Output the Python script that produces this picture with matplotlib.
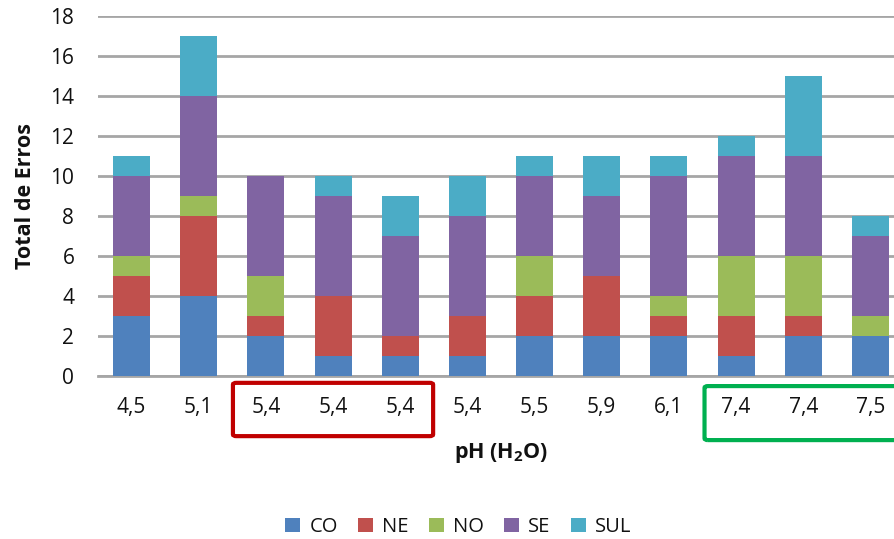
import matplotlib
matplotlib.use("Agg")
import matplotlib.pyplot as plt
from matplotlib.patches import FancyBboxPatch
from matplotlib.transforms import blended_transform_factory
import numpy as np

plt.rcParams['font.family'] = ['Open Sans', 'DejaVu Sans']
plt.rcParams['mathtext.fontset'] = 'custom'
plt.rcParams['mathtext.rm'] = 'Open Sans'
plt.rcParams['mathtext.bf'] = 'Open Sans:bold'

ph_labels = ['4,5', '5,1', '5,4', '5,4', '5,4', '5,4', '5,5', '5,9', '6,1', '7,4', '7,4', '7,5']
regions = ['CO', 'NE', 'NO', 'SE', 'SUL']
co = [3, 4, 2, 1, 1, 1, 2, 2, 2, 1, 2, 2]
ne = [2, 4, 1, 3, 1, 2, 2, 3, 1, 2, 1, 0]
no = [1, 1, 2, 0, 0, 0, 2, 0, 1, 3, 3, 1]
se = [4, 5, 5, 5, 5, 5, 4, 4, 6, 5, 5, 4]
sul = [1, 3, 0, 1, 2, 2, 1, 2, 1, 1, 4, 1]
colors = ['#4F81BD', '#C0504D', '#9BBB59', '#8064A2', '#4BACC6']

fig = plt.figure(figsize=(8.95, 5.39), dpi=100)
ax = fig.add_axes([0.1094, 0.3024, 0.9007, 0.668])

x = np.arange(len(ph_labels))
bottom = np.zeros(len(ph_labels))
for name, vals, c in zip(regions, [co, ne, no, se, sul], colors):
    ax.bar(x, vals, width=0.55, bottom=bottom, color=c, label=name, zorder=3,
           edgecolor='none')
    bottom += np.array(vals)

ax.set_ylim(0, 18)
ax.set_xlim(-0.5, len(ph_labels) - 0.5)
ax.set_yticks(range(0, 19, 2))
ax.set_xticks(x)
ax.set_xticklabels(ph_labels)
ax.yaxis.grid(True, color='#A6A6A6', linewidth=2, zorder=0)
for s in ['top', 'right', 'left']:
    ax.spines[s].set_visible(False)
ax.spines['bottom'].set_color('#A6A6A6')
ax.spines['bottom'].set_linewidth(2)
ax.tick_params(axis='both', length=0, labelsize=15, colors='#111111')
ax.tick_params(axis='y', pad=17)
ax.tick_params(axis='x', pad=15)

ax.set_ylabel('Total de Erros', fontsize=15.5, fontweight='bold', labelpad=10,
              color='#111111')
ax.set_xlabel(r'pH (H$_{\mathbf{2}}$O)', fontsize=15.5, fontweight='bold', labelpad=17,
              color='#111111')

# highlight boxes around the pH groups
trans = blended_transform_factory(ax.transData, ax.transAxes)
for x0, x1, y0, y1, ec in [(1.51, 4.49, -0.167, -0.019, '#C00000'),
                           (8.53, 11.45, -0.178, -0.028, '#00B050')]:
    box = FancyBboxPatch((x0, y0), x1 - x0, y1 - y0,
                         boxstyle='round,pad=0,rounding_size=0.05',
                         transform=trans, fill=False, edgecolor=ec,
                         linewidth=3, clip_on=False, zorder=5,
                         mutation_aspect=0.1)
    ax.add_patch(box)

fig.legend(loc='lower center', bbox_to_anchor=(0.512, -0.03), ncol=5, frameon=False,
           fontsize=14.5, handlelength=0.75, handleheight=0.75, handletextpad=0.45,
           columnspacing=1.0, labelcolor='#111111')

fig.savefig('out.png', dpi=100)
